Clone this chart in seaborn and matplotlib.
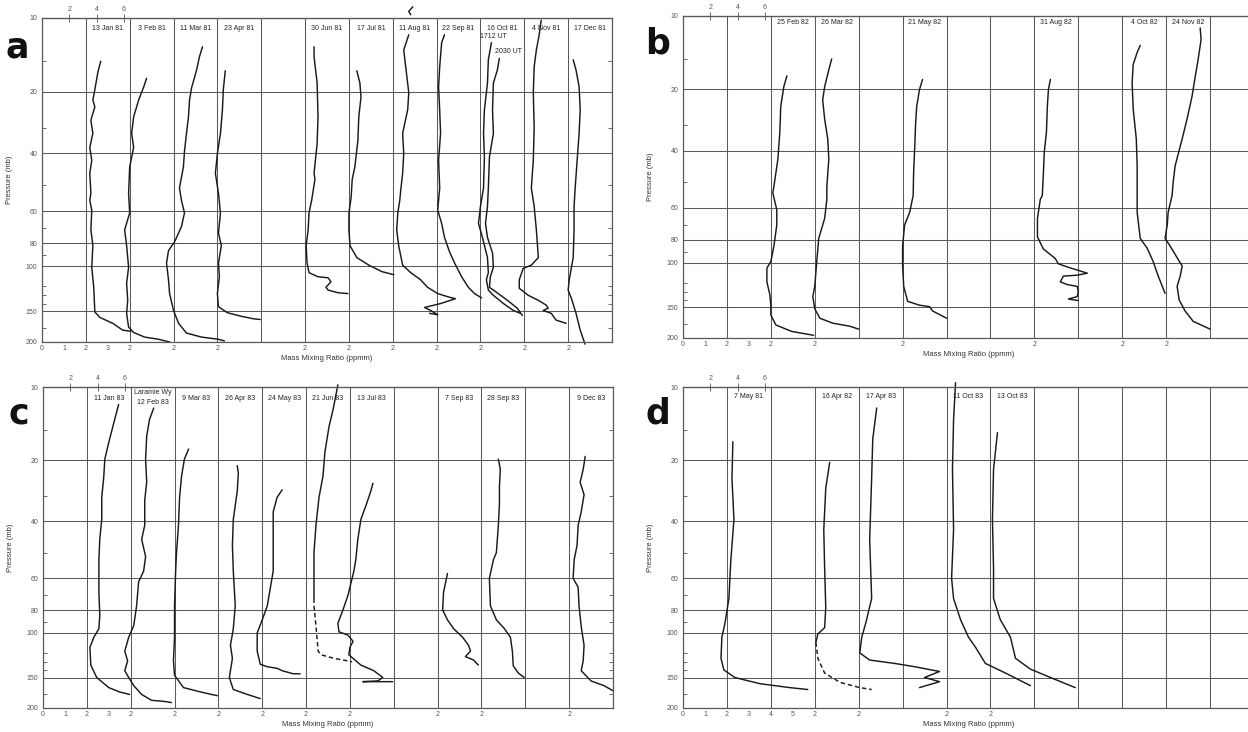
import numpy as np
import pandas as pd
import matplotlib
matplotlib.use("Agg")
import matplotlib.pyplot as plt
import matplotlib.transforms as mtransforms
import seaborn as sns

# ---------------------------------------------------------------------------
# Vertical pressure scale (mb) and its plotted fraction of the frame height
P_KNOTS = [10, 20, 40, 60, 80, 100, 150, 200]
F_KNOTS = [0.0, 0.228, 0.418, 0.596, 0.695, 0.766, 0.905, 1.0]
Y_TICKS = [10, 20, 40, 60, 80, 100, 150, 200]
Y_MINOR = [15, 30, 50, 70, 90, 120, 130, 140, 175]
PPMV_TOP = [2, 4, 6]
PPMV_TO_PPMM = 18.015 / 28.96
N_COLS = 13  # columns of 2 ppmm each

# ---------------------------------------------------------------------------
# Panel a : 1981 soundings  (pressure mb, mass mixing ratio ppmm)
A1_P = [15.0, 16.6, 19.6, 21.9, 23.7, 27.5, 31.9, 37.4, 42, 46, 52.9, 55.6, 59.6, 71, 81.6, 101, 121, 151, 159, 168, 179, 181]
A1_Q = [2.68, 2.55, 2.41, 2.32, 2.41, 2.23, 2.32, 2.18, 2.27, 2.18, 2.23, 2.18, 2.27, 2.23, 2.32, 2.27, 2.36, 2.41, 2.64, 3.23, 3.68, 4.05]
A2_P = [17.6, 19.1, 21.9, 26.5, 31.9, 37.4, 44, 53, 61, 71, 82, 101, 117, 136, 153, 174, 183, 191, 195, 200]
A2_Q = [2.77, 2.64, 2.41, 2.18, 2.09, 2.18, 2.0, 1.95, 2.0, 1.77, 1.86, 1.95, 1.86, 1.91, 1.86, 1.95, 2.18, 2.68, 3.32, 3.82]
A3_P = [13.1, 14.4, 16.3, 19.3, 21.9, 26.5, 31.9, 39, 44, 51, 55.6, 61, 69, 79, 86, 97, 113, 128, 149, 168, 184, 191, 195, 198]
A3_Q = [3.32, 3.18, 3.05, 2.82, 2.73, 2.68, 2.59, 2.5, 2.45, 2.27, 2.36, 2.5, 2.36, 2.05, 1.77, 1.68, 1.77, 1.82, 2.0, 2.23, 2.59, 3.27, 4.05, 4.32]
A4_P = [16.4, 19.6, 24.5, 31.9, 40, 46, 53, 61, 73, 82, 97, 110, 128, 144, 152, 157, 161, 162]
A4_Q = [2.36, 2.27, 2.23, 2.14, 2.0, 1.91, 2.05, 2.14, 2.05, 2.18, 2.05, 2.09, 2.0, 2.05, 2.45, 3.05, 3.64, 3.95]
A5_P = [13.1, 14.4, 18.4, 26.5, 35.8, 46, 48, 55.6, 61, 71, 82, 97, 106, 110, 111, 115, 121, 124, 127, 128]
A5_Q = [2.41, 2.41, 2.55, 2.59, 2.55, 2.41, 2.45, 2.3, 2.18, 2.14, 2.05, 2.09, 2.18, 2.59, 3.05, 3.18, 2.95, 3.05, 3.5, 3.95]
A6_P = [16.4, 18.4, 21.2, 26.5, 34.5, 44, 48, 54.5, 61, 71, 82, 92, 99, 105, 108]
A6_Q = [2.36, 2.5, 2.55, 2.45, 2.41, 2.27, 2.15, 2.1, 2.0, 2.0, 2.05, 2.36, 2.91, 3.5, 4.05]
A7_TOP_P = [9.0, 9.4, 9.7]
A7_TOP_Q = [2.91, 2.73, 2.82]
A7_P = [11.7, 13.5, 15.8, 20.2, 24.5, 31.9, 40, 46, 52, 55.6, 61, 71, 82, 99, 106, 113, 121, 128, 132, 134, 140, 145, 149, 155, 153]
A7_Q = [2.73, 2.5, 2.59, 2.73, 2.68, 2.45, 2.5, 2.45, 2.36, 2.32, 2.23, 2.18, 2.27, 2.45, 2.82, 3.27, 3.59, 4.05, 4.55, 4.86, 4.18, 3.45, 3.73, 4.05, 3.68]
A8_P = [11.7, 12.6, 15.8, 19.1, 24.5, 31.9, 42, 51, 55.6, 59.6, 67, 76, 87, 97, 110, 121, 128, 133]
A8_Q = [2.36, 2.23, 2.14, 2.09, 2.14, 2.18, 2.09, 2.14, 2.09, 2.05, 2.23, 2.36, 2.59, 2.82, 3.14, 3.45, 3.73, 4.05]
A9_P = [12.6, 14.8, 18.4, 24.5, 31.9, 41, 51, 58, 67, 76, 92, 106, 113, 124, 130, 140, 149, 153]
A9_Q = [2.5, 2.36, 2.32, 2.18, 2.14, 2.18, 2.14, 2.0, 1.91, 2.09, 2.32, 2.36, 2.27, 2.36, 2.59, 3.05, 3.5, 3.82]
A10_P = [14.6, 16.3, 18.4, 24.5, 31.9, 41, 51, 58, 67, 76, 88, 101, 110, 121, 124, 136, 146, 156]
A10_Q = [2.86, 2.77, 2.59, 2.55, 2.59, 2.41, 2.36, 2.32, 2.23, 2.32, 2.55, 2.59, 2.45, 2.41, 2.59, 3.23, 3.68, 3.91]
A11_P = [10.2, 11.7, 13.5, 15.8, 20.2, 30, 42, 51, 58, 71, 92, 99, 102, 113, 122, 130, 136, 142, 146, 149, 153, 163, 168]
A11_Q = [2.77, 2.68, 2.55, 2.45, 2.41, 2.45, 2.41, 2.32, 2.45, 2.55, 2.64, 2.32, 1.95, 1.77, 1.77, 2.18, 2.64, 3.0, 3.09, 2.86, 3.23, 3.45, 3.91]
A12_P = [14.8, 16.3, 19.1, 24.5, 31.9, 42, 51, 58, 71, 92, 113, 124, 133, 153, 179, 204]
A12_Q = [2.23, 2.36, 2.5, 2.55, 2.5, 2.41, 2.32, 2.27, 2.27, 2.23, 2.05, 2.0, 2.14, 2.36, 2.55, 2.77]

# Panel b : 1982 soundings
B1_P = [17.6, 19.5, 24.3, 32.3, 42.5, 51.5, 54, 61, 70, 85, 99, 105, 119, 133, 147, 161, 177, 188, 195]
B1_Q = [2.73, 2.59, 2.45, 2.41, 2.32, 2.14, 2.09, 2.27, 2.27, 2.14, 2.0, 1.82, 1.82, 1.95, 2.0, 2.0, 2.23, 2.95, 3.95]
B2_P = [15.0, 16.6, 19.5, 22.5, 28, 35, 42.5, 51.5, 56.5, 66, 79, 99, 124, 136, 152, 166, 174, 179, 184]
B2_Q = [2.77, 2.64, 2.45, 2.36, 2.45, 2.59, 2.64, 2.55, 2.55, 2.45, 2.18, 2.09, 2.0, 1.91, 2.0, 2.23, 2.82, 3.59, 4.0]
B3_P = [18.2, 20, 24.3, 29.8, 39, 47, 55, 62.5, 70, 85, 103, 124, 142, 147, 149, 155, 166]
B3_Q = [2.91, 2.77, 2.64, 2.59, 2.55, 2.5, 2.48, 2.32, 2.09, 2.0, 2.0, 2.05, 2.23, 2.77, 3.23, 3.36, 4.0]
B4_P = [18.2, 20, 24.3, 32.3, 40.5, 47, 55, 56.5, 66, 78, 87.5, 96, 101, 104, 110, 112, 113, 119, 122, 124, 130, 136, 139, 141]
B4_Q = [2.73, 2.64, 2.59, 2.55, 2.45, 2.41, 2.36, 2.27, 2.14, 2.14, 2.41, 2.95, 3.09, 3.5, 4.41, 3.95, 3.32, 3.18, 3.5, 3.95, 4.0, 3.95, 3.55, 4.0]
B5_P = [13.2, 14.1, 15.8, 18.8, 25, 35, 44.5, 55, 62.5, 79, 87, 99, 113, 132]
B5_Q = [2.82, 2.68, 2.5, 2.45, 2.5, 2.64, 2.68, 2.68, 2.68, 2.82, 3.14, 3.41, 3.64, 3.95]
B6_P = [11.2, 12.5, 15.2, 17.8, 21.6, 28, 35, 44.5, 50, 55, 62.5, 70, 79, 85, 97, 103, 113, 124, 140, 155, 171, 184]
B6_Q = [3.55, 3.59, 3.45, 3.32, 3.18, 2.95, 2.73, 2.41, 2.32, 2.27, 2.09, 2.05, 1.95, 2.18, 2.55, 2.73, 2.64, 2.5, 2.59, 2.86, 3.23, 4.0]

# Panel c : 1983 soundings
C1_P = [11.8, 13.6, 16.9, 19.8, 24.3, 30.5, 39.2, 45.5, 52.5, 68, 84, 96, 104, 114, 134, 150, 165, 172, 176]
C1_Q = [3.45, 3.27, 3.0, 2.82, 2.77, 2.68, 2.68, 2.59, 2.55, 2.55, 2.59, 2.55, 2.32, 2.14, 2.18, 2.45, 3.0, 3.5, 3.95]
C2_P = [12.2, 13.6, 15.9, 19.8, 25.7, 31.6, 41.2, 45.5, 51.4, 57, 62, 77, 93, 104, 118, 129, 141, 150, 162, 176, 186, 188, 190]
C2_Q = [3.05, 2.86, 2.73, 2.68, 2.73, 2.64, 2.64, 2.5, 2.68, 2.59, 2.36, 2.27, 2.14, 1.91, 1.73, 1.86, 1.73, 1.91, 2.14, 2.5, 2.95, 3.55, 3.86]
C3_P = [18.0, 19.8, 24, 30.5, 41.2, 50, 57, 77, 104, 129, 147, 165, 171, 176, 178]
C3_Q = [2.64, 2.45, 2.32, 2.23, 2.18, 2.09, 2.05, 2.0, 2.0, 1.95, 2.0, 2.41, 3.09, 3.68, 3.95]
C4_P = [21.3, 23.2, 28.5, 39.2, 47.5, 57, 77, 96, 112, 126, 150, 168, 176, 183]
C4_Q = [2.86, 2.91, 2.86, 2.68, 2.64, 2.68, 2.77, 2.68, 2.55, 2.64, 2.5, 2.68, 3.32, 3.91]
C5_P = [28, 30.5, 36, 43.5, 50, 57, 77, 88, 100, 118, 133, 136, 138, 141, 145, 145]
C5_Q = [2.91, 2.68, 2.5, 2.5, 2.5, 2.5, 2.23, 2.0, 1.77, 1.77, 1.91, 2.23, 2.68, 2.91, 3.41, 3.73]
C6_P = [9.8, 12.4, 14.5, 18.5, 24, 30.5, 41.2, 50, 57, 72]
C6_Q = [3.45, 3.23, 3.05, 2.86, 2.77, 2.59, 2.45, 2.36, 2.36, 2.36]
C6_DASH_P = [72, 77, 93, 118, 122, 126, 130]
C6_DASH_Q = [2.36, 2.36, 2.45, 2.55, 2.68, 3.27, 4.1]
C7_P = [26, 28.5, 33.5, 39.2, 45.5, 52.5, 57, 70, 80, 91, 99, 102, 108, 114, 122, 134, 141, 150, 155, 156, 156]
C7_Q = [3.05, 2.95, 2.73, 2.5, 2.36, 2.27, 2.18, 1.91, 1.68, 1.45, 1.5, 1.91, 2.14, 2.0, 1.95, 2.5, 3.09, 3.5, 3.27, 2.59, 3.95]
C8_P = [58, 68, 80, 88, 96, 104, 112, 118, 124, 128, 134]
C8_Q = [2.45, 2.27, 2.23, 2.45, 2.73, 3.14, 3.41, 3.5, 3.27, 3.64, 3.86]
C9_P = [19.8, 22.2, 27, 33, 41.2, 50, 52.5, 60, 77, 88, 96, 104, 118, 135, 144, 150]
C9_Q = [2.77, 2.86, 2.82, 2.82, 2.77, 2.68, 2.55, 2.36, 2.41, 2.68, 3.05, 3.32, 3.41, 3.45, 3.68, 3.95]
C10_P = [19.3, 22.2, 25.7, 29.6, 36, 41.2, 47.5, 52.5, 60, 65, 77, 94, 112, 129, 141, 155, 162, 170]
C10_Q = [2.73, 2.64, 2.5, 2.68, 2.55, 2.41, 2.36, 2.23, 2.18, 2.41, 2.45, 2.55, 2.68, 2.64, 2.55, 3.0, 3.59, 4.0]

# Panel d : selected soundings 1981-1983
D1_P = [16.8, 24.7, 39.2, 52.5, 72, 91, 104, 126, 140, 150, 159, 165, 168]
D1_Q = [2.27, 2.23, 2.32, 2.18, 2.09, 1.91, 1.77, 1.73, 1.86, 2.36, 3.5, 4.86, 5.68]
D2_P = [20.5, 27.5, 42.5, 56, 78, 95, 101, 109]
D2_Q = [2.68, 2.5, 2.41, 2.45, 2.5, 2.45, 2.14, 2.05]
D2_DASH_P = [109, 126, 144, 157, 165, 168]
D2_DASH_Q = [2.05, 2.14, 2.45, 3.14, 4.05, 4.59]
D3_P = [12.2, 16.4, 24.5, 45.5, 72, 91, 104, 120, 128, 132, 136, 142, 150, 156, 165]
D3_Q = [2.82, 2.64, 2.59, 2.5, 2.59, 2.32, 2.14, 2.05, 2.5, 3.64, 4.55, 5.68, 5.0, 5.68, 4.77]
D4_P = [9.6, 13.6, 22.2, 42.5, 60, 72, 88, 104, 114, 132, 144, 162]
D4_Q = [2.41, 2.32, 2.27, 2.32, 2.23, 2.32, 2.64, 3.0, 3.32, 3.77, 4.68, 5.82]
D5_P = [15.4, 22.2, 39.2, 56, 72, 88, 104, 126, 139, 150, 165]
D5_Q = [2.32, 2.14, 2.09, 2.14, 2.14, 2.45, 2.91, 3.14, 3.82, 4.73, 5.86]

# (label, column, [(pressures, ppmm, dashed), ...])
PANEL_A = [
    ("13 Jan 81", 1, [(A1_P, A1_Q, False)]),
    ("3 Feb 81", 2, [(A2_P, A2_Q, False)]),
    ("11 Mar 81", 3, [(A3_P, A3_Q, False)]),
    ("23 Apr 81", 4, [(A4_P, A4_Q, False)]),
    ("30 Jun 81", 6, [(A5_P, A5_Q, False)]),
    ("17 Jul 81", 7, [(A6_P, A6_Q, False)]),
    ("11 Aug 81", 8, [(A7_TOP_P, A7_TOP_Q, False), (A7_P, A7_Q, False)]),
    ("22 Sep 81", 9, [(A8_P, A8_Q, False)]),
    ("16 Oct 81", 10, [(A9_P, A9_Q, False), (A10_P, A10_Q, False)]),
    ("4 Nov 81", 11, [(A11_P, A11_Q, False)]),
    ("17 Dec 81", 12, [(A12_P, A12_Q, False)]),
]
PANEL_B = [
    ("25 Feb 82", 2, [(B1_P, B1_Q, False)]),
    ("26 Mar 82", 3, [(B2_P, B2_Q, False)]),
    ("21 May 82", 5, [(B3_P, B3_Q, False)]),
    ("31 Aug 82", 8, [(B4_P, B4_Q, False)]),
    ("4 Oct 82", 10, [(B5_P, B5_Q, False)]),
    ("24 Nov 82", 11, [(B6_P, B6_Q, False)]),
]
PANEL_C = [
    ("11 Jan 83", 1, [(C1_P, C1_Q, False)]),
    ("12 Feb 83", 2, [(C2_P, C2_Q, False)]),
    ("9 Mar 83", 3, [(C3_P, C3_Q, False)]),
    ("26 Apr 83", 4, [(C4_P, C4_Q, False)]),
    ("24 May 83", 5, [(C5_P, C5_Q, False)]),
    ("21 Jun 83", 6, [(C6_P, C6_Q, False), (C6_DASH_P, C6_DASH_Q, True)]),
    ("13 Jul 83", 7, [(C7_P, C7_Q, False)]),
    ("7 Sep 83", 9, [(C8_P, C8_Q, False)]),
    ("28 Sep 83", 10, [(C9_P, C9_Q, False)]),
    ("9 Dec 83", 12, [(C10_P, C10_Q, False)]),
]
PANEL_D = [
    ("7 May 81", 1, [(D1_P, D1_Q, False)]),
    ("16 Apr 82", 3, [(D2_P, D2_Q, False), (D2_DASH_P, D2_DASH_Q, True)]),
    ("17 Apr 83", 4, [(D3_P, D3_Q, False)]),
    ("11 Oct 83", 6, [(D4_P, D4_Q, False)]),
    ("13 Oct 83", 7, [(D5_P, D5_Q, False)]),
]

# first-scale tick labels for each panel
FIRST_SCALE = {"a": [0, 1, 2, 3], "b": [0, 1, 2, 3], "c": [0, 1, 2, 3], "d": [0, 1, 2, 3, 4, 5]}
# site note above a column label: (panel, column, text)
SITE_NOTE = ("c", 2, "Laramie Wy")

# ---------------------------------------------------------------------------
LOG_P = np.log10(P_KNOTS)
F_ARR = np.array(F_KNOTS)
S_LO = (F_ARR[1] - F_ARR[0]) / (LOG_P[1] - LOG_P[0])
S_HI = (F_ARR[-1] - F_ARR[-2]) / (LOG_P[-1] - LOG_P[-2])


def p_to_f(p):
    lp = np.log10(np.clip(np.asarray(p, dtype=float), 1e-3, None))
    f = np.interp(lp, LOG_P, F_ARR)
    f = np.where(lp < LOG_P[0], F_ARR[0] + (lp - LOG_P[0]) * S_LO, f)
    f = np.where(lp > LOG_P[-1], F_ARR[-1] + (lp - LOG_P[-1]) * S_HI, f)
    return f


def f_to_p(f):
    f = np.asarray(f, dtype=float)
    lp = np.interp(f, F_ARR, LOG_P)
    lp = np.where(f < F_ARR[0], LOG_P[0] + (f - F_ARR[0]) / S_LO, lp)
    lp = np.where(f > F_ARR[-1], LOG_P[-1] + (f - F_ARR[-1]) / S_HI, lp)
    return 10 ** lp


def build_frame(profiles):
    rows = []
    seg = 0
    for label, col, parts in profiles:
        offset = 2 * (col - 1)
        for p_list, q_list, dashed in parts:
            for p, q in zip(p_list, q_list):
                rows.append({"profile": label, "segment": seg, "pressure": p,
                             "ppmm": q, "position": q + offset, "dashed": dashed})
            seg += 1
    return pd.DataFrame(rows)


sns.set_style("white")
plt.rcParams["font.family"] = ["Liberation Sans", "DejaVu Sans"]

W, H = 1248, 732
fig = plt.figure(figsize=(W / 100, H / 100), dpi=100)

LINE_C = "#1a1a1a"
GRID_C = "#5a5a5a"
TICK_C = "#555555"

# panel frames in pixels: left, right, top, bottom ; date-label offset from top
PANELS = [
    ("a", PANEL_A, (42, 612, 18, 342), 11),
    ("b", PANEL_B, (683, 1254, 16, 338), 7),
    ("c", PANEL_C, (43, 613, 387, 708), 11),
    ("d", PANEL_D, (683, 1254, 387, 708), 10),
]
LETTER_POS = {"a": (17, 47), "b": (658, 43), "c": (19, 414), "d": (658, 414)}

for key, profiles, (l, r, t, b), lab_off in PANELS:
    ax = fig.add_axes([l / W, 1 - b / H, (r - l) / W, (b - t) / H])
    df = build_frame(profiles)
    solid = df[~df["dashed"]]
    dashed = df[df["dashed"]]
    sns.lineplot(data=solid, x="position", y="pressure", units="segment",
                 estimator=None, sort=False, color=LINE_C, linewidth=1.05,
                 legend=False, ax=ax)
    if len(dashed):
        sns.lineplot(data=dashed, x="position", y="pressure", units="segment",
                     estimator=None, sort=False, color=LINE_C, linewidth=1.05,
                     linestyle=(0, (3, 2)), legend=False, ax=ax)
    for ln in ax.lines:
        ln.set_clip_on(False)

    ax.set_yscale("function", functions=(p_to_f, f_to_p))
    ax.set_ylim(200, 10)
    ax.set_xlim(0, 2 * N_COLS)

    # keep the grid ticks even where they coincide with labelled ticks
    ax.xaxis.remove_overlapping_locs = False
    ax.yaxis.remove_overlapping_locs = False

    # grid: vertical every 2 ppmm, horizontal at labelled pressures
    ax.set_xticks(np.arange(0, 2 * N_COLS + 1, 2), minor=True)
    ax.xaxis.grid(True, which="minor", color=GRID_C, linewidth=0.75)
    ax.set_yticks(Y_TICKS)
    ax.set_yticklabels([str(v) for v in Y_TICKS])
    ax.set_yticks(Y_MINOR, minor=True)
    ax.yaxis.grid(True, which="major", color=GRID_C, linewidth=0.75)
    ax.yaxis.grid(False, which="minor")
    ax.xaxis.grid(False, which="major")

    # bottom scale labels: first scale, then "2" at the base of each sounding column
    first = FIRST_SCALE[key]
    cols = sorted({c for _, c, _ in profiles})
    base = [2 * c for c in cols if 2 * c > first[-1]]
    xt = list(first) + base
    xl = [str(v) for v in first] + ["2"] * len(base)
    ax.set_xticks(xt)
    ax.set_xticklabels(xl)

    ax.tick_params(axis="x", which="major", direction="in", length=3, width=0.6,
                   labelsize=5, pad=2, colors=TICK_C, labelcolor=TICK_C)
    ax.tick_params(axis="x", which="minor", length=0)
    ax.tick_params(axis="y", which="major", direction="inout", length=4, width=0.6,
                   labelsize=5, pad=1.5, colors=TICK_C, labelcolor=TICK_C)
    ax.tick_params(axis="y", which="minor", direction="in", length=3, width=0.6,
                   left=True, right=True, colors=TICK_C)
    for sp in ax.spines.values():
        sp.set_color(GRID_C)
        sp.set_linewidth(0.9)

    ax.set_xlabel("Mass Mixing Ratio (ppmm)", fontsize=5.5, color="#333333", labelpad=2)
    ax.set_ylabel("Pressure (mb)", fontsize=5.5, color="#333333", labelpad=9)

    # ppmv scale along the top
    sec = ax.secondary_xaxis("top")
    sec.set_xticks([v * PPMV_TO_PPMM for v in PPMV_TOP])
    sec.set_xticklabels([str(v) for v in PPMV_TOP])
    sec.tick_params(direction="inout", length=6, width=0.6, labelsize=5, pad=0.5,
                    colors=TICK_C, labelcolor=TICK_C)
    sec.spines["top"].set_color(GRID_C)

    # date labels centred in each sounding column
    trans = mtransforms.blended_transform_factory(ax.transData, ax.transAxes)
    height = b - t
    for label, col, _ in profiles:
        off = lab_off
        if SITE_NOTE[0] == key and SITE_NOTE[1] == col:
            ax.text(2 * col + 1, 1 - 5.5 / height, SITE_NOTE[2], transform=trans,
                    ha="center", va="center", fontsize=5, color="#222222")
            off = 16
        ax.text(2 * col + 1, 1 - off / height, label, transform=trans,
                ha="center", va="center", fontsize=5, color="#222222")

    if key == "a":
        ax.text(20.6, 11.9, "1712 UT", ha="center", va="center", fontsize=5, color="#222222")
        ax.text(21.3, 13.7, "2030 UT", ha="center", va="center", fontsize=5, color="#222222")

    lx, ly = LETTER_POS[key]
    fig.text(lx / W, 1 - ly / H, key, ha="center", va="center", fontsize=25,
             fontweight="bold", family=["Liberation Sans Narrow", "DejaVu Sans"],
             color="#111111")

fig.savefig("out.png", dpi=100, facecolor="white")
